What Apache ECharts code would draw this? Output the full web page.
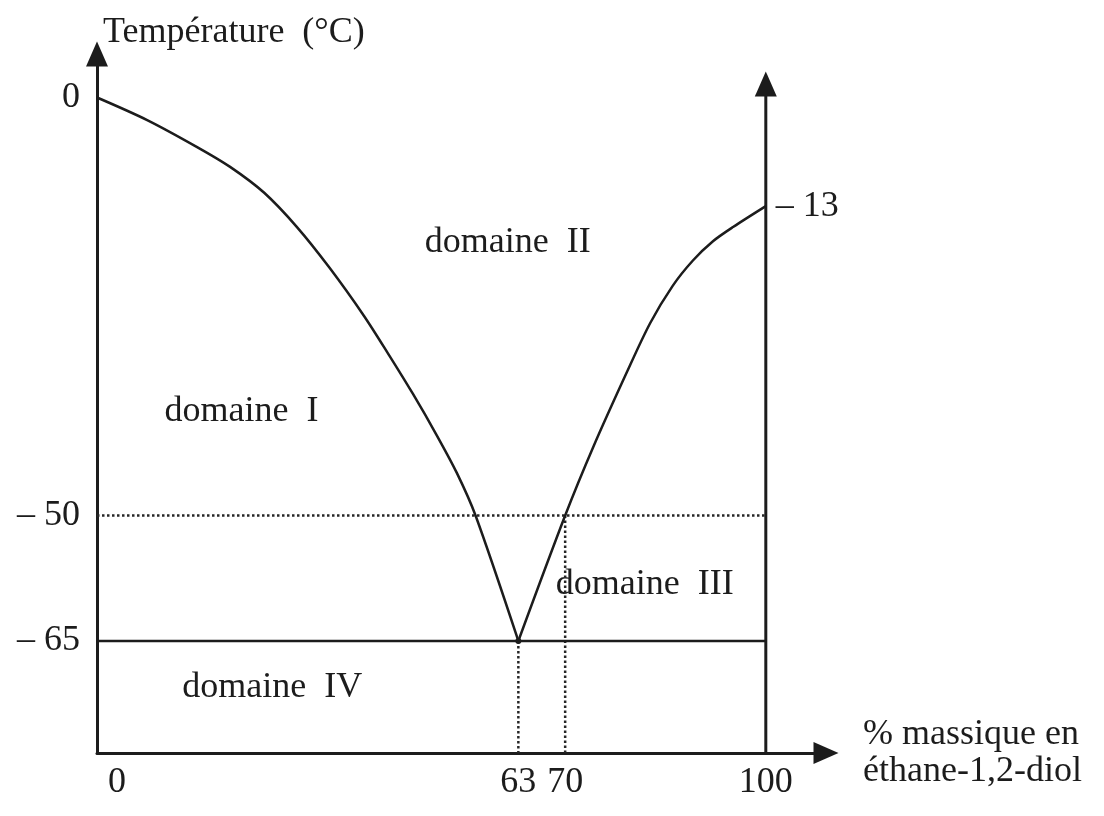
<!DOCTYPE html>
<html>
<head>
<meta charset="utf-8">
<script src="https://cdn.jsdelivr.net/npm/echarts@6/dist/echarts.min.js"></script>
<style>
  html, body { margin: 0; padding: 0; background: #fff; }
  #chart { width: 1104px; height: 816px; }
</style>
</head>
<body>
<div id="chart"></div>
<script>
// ---- Data ----
const leftBranchX = [0, 7.5, 14.9, 19.9, 25.0, 29.9, 34.8, 39.9, 43.5, 47.2, 50.8, 53.8, 56.6, 63];
const leftBranchT = [0, -2.7, -5.9, -8.3, -11.4, -15.5, -20.4, -26.1, -30.6, -35.4, -40.4, -44.9, -50, -65];
const rightBranchX = [63, 70, 74.2, 79.2, 82.7, 86.1, 89.1, 92.1, 95.1, 100];
const rightBranchT = [-65, -50, -41.8, -32.9, -27.0, -22.5, -19.5, -17.2, -15.5, -13];

const eutecticX = 63, eutecticT = -65;
const levelT = -50, levelX = 70;
const pureGlycolT = -13;

const xTickValues = [0, 63, 70, 100];
const xTickLabels = ['0', '63', '70', '100'];
const yTickValues = [0, -50, -65];
const yTickLabels = ['0', '– 50', '– 65'];
const rightTickLabel = '– 13';

const domainNames = ['domaine  I', 'domaine  II', 'domaine  III', 'domaine  IV'];
const domainX = [21.6, 61.4, 81.9, 26.2];
const domainT = [-37.6, -17.3, -58.3, -70.6];

const xMin = 0, xMax = 109;
const yMin = -78.4, yMax = 5.2;
const rightAxisTop = 1.6;

const yAxisName = 'Température  (°C)';
const xAxisName = '% massique en\néthane-1,2-diol';

// ---- Chart ----
const INK = '#1c1c1c';
const FONT = "'Liberation Serif', 'DejaVu Serif', serif";
const FS = 36;

const zip = (xs, ys) => xs.map((x, i) => [x, ys[i]]);

const chart = echarts.init(document.getElementById('chart'), null, { renderer: 'canvas' });

const option = {
  animation: false,
  backgroundColor: '#ffffff',
  grid: { left: 97, right: 278, top: 54, bottom: 63, containLabel: false, outerBoundsMode: 'none' },
  xAxis: {
    type: 'value', min: xMin, max: xMax,
    name: xAxisName, nameLocation: 'end', nameGap: 37,
    nameTextStyle: { fontFamily: FONT, fontSize: FS, color: INK, align: 'left', verticalAlign: 'middle', lineHeight: 37, padding: [49, 0, 0, 0] },
    axisLine: { show: true, onZero: false, symbol: ['none', 'triangle'], symbolSize: [22, 25], lineStyle: { color: INK, width: 3 } },
    axisTick: { show: false },
    splitLine: { show: false },
    axisLabel: {
      customValues: xTickValues,
      margin: 12,
      fontFamily: FONT, fontSize: FS, color: INK,
      formatter: (v) => {
        const i = xTickValues.indexOf(v);
        const s = i >= 0 ? xTickLabels[i] : '';
        return v === 0 ? '{z|' + s + '}' : s;
      },
      rich: { z: { fontFamily: FONT, fontSize: FS, color: INK, padding: [0, 0, 0, 40] } }
    }
  },
  yAxis: {
    type: 'value', min: yMin, max: yMax,
    name: yAxisName, nameLocation: 'end', nameGap: 3,
    nameTextStyle: { fontFamily: FONT, fontSize: FS, color: INK, align: 'left', verticalAlign: 'bottom', padding: [0, 0, 0, 6] },
    axisLine: { show: true, onZero: false, symbol: ['none', 'triangle'], symbolSize: [22, 25], lineStyle: { color: INK, width: 3 } },
    axisTick: { show: false },
    splitLine: { show: false },
    axisLabel: {
      customValues: yTickValues,
      margin: 17,
      fontFamily: FONT, fontSize: FS, color: INK,
      formatter: (v) => {
        const i = yTickValues.indexOf(v);
        return i >= 0 ? yTickLabels[i] : '';
      }
    }
  },
  series: [
    {
      name: 'liquidus eau', type: 'line', data: zip(leftBranchX, leftBranchT),
      smooth: 0.3, symbol: 'none', lineStyle: { color: INK, width: 2.5 }, z: 5
    },
    {
      name: 'liquidus glycol', type: 'line', data: zip(rightBranchX, rightBranchT),
      smooth: 0.3, symbol: 'none', lineStyle: { color: INK, width: 2.5 }, z: 5
    },
    {
      name: 'palier eutectique', type: 'line', data: [[xMin, eutecticT], [100, eutecticT]],
      symbol: 'none', lineStyle: { color: INK, width: 2.5 }, z: 4
    },
    {
      name: 'niveau -50', type: 'line', data: [[xMin, levelT], [100, levelT]],
      symbol: 'none', lineStyle: { color: '#262626', width: 2.5, type: 'dotted' }, z: 3
    },
    {
      name: 'x 63', type: 'line', data: [[eutecticX, eutecticT], [eutecticX, yMin]],
      symbol: 'none', lineStyle: { color: '#262626', width: 2.5, type: 'dotted' }, z: 3
    },
    {
      name: 'x 70', type: 'line', data: [[levelX, levelT], [levelX, yMin]],
      symbol: 'none', lineStyle: { color: '#262626', width: 2.5, type: 'dotted' }, z: 3
    },
    {
      name: 'axe 100', type: 'line',
      data: [[100, yMin], { value: [100, rightAxisTop], symbol: 'triangle', symbolSize: [22, 25] }],
      symbol: 'none', showSymbol: true, itemStyle: { color: INK },
      lineStyle: { color: INK, width: 3 }, z: 6
    },
    {
      name: 'point eutectique', type: 'scatter', data: [[eutecticX, eutecticT]],
      symbol: 'circle', symbolSize: 6, itemStyle: { color: INK, opacity: 1 }, z: 7
    },
    {
      name: 'label -13', type: 'scatter', data: [[100, pureGlycolT]],
      symbolSize: 0, itemStyle: { opacity: 1 },
      label: { show: true, position: 'right', distance: 10, formatter: rightTickLabel, fontFamily: FONT, fontSize: FS, color: INK, opacity: 1 }
    },
    {
      name: 'domaines', type: 'scatter',
      data: domainNames.map((n, i) => ({ name: n, value: [domainX[i], domainT[i]] })),
      symbolSize: 0, itemStyle: { opacity: 1 },
      label: { show: true, position: 'inside', formatter: (p) => p.name, fontFamily: FONT, fontSize: FS, color: INK, opacity: 1 }
    }
  ]
};

chart.setOption(option);
</script>
</body>
</html>
